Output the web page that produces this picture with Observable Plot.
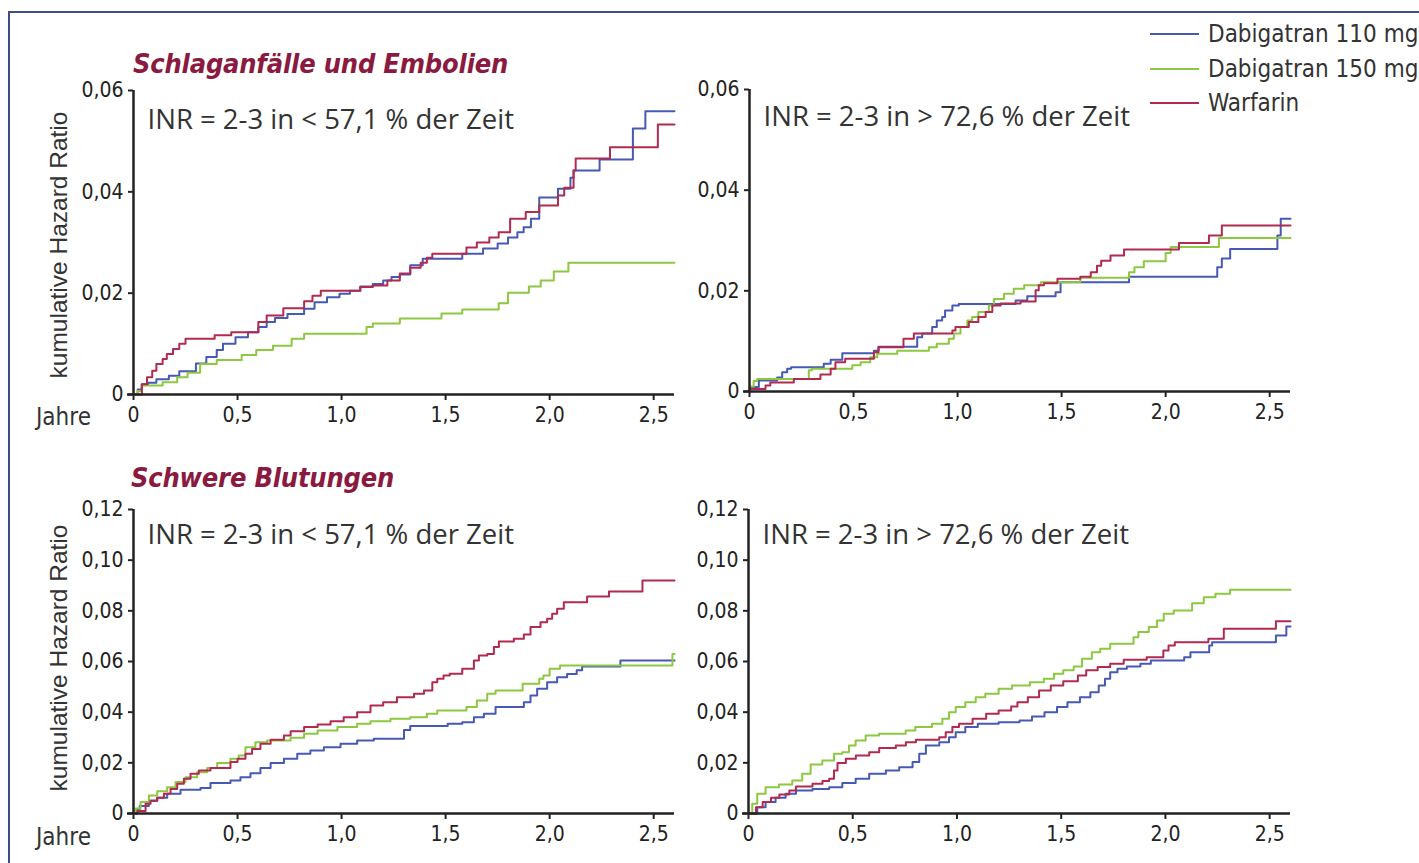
<!DOCTYPE html>
<html><head><meta charset="utf-8">
<script src="https://cdn.jsdelivr.net/npm/d3@7"></script>
<script src="https://cdn.jsdelivr.net/npm/@observablehq/plot@0.6"></script>
<style>
  html,body{margin:0;padding:0;background:#fff;}
  body{width:1419px;height:863px;position:relative;overflow:hidden;}
  .frame{position:absolute;left:8px;top:11px;width:1500px;height:1000px;border-top:2.5px solid #3d4b8a;border-left:2.5px solid #3d4b8a;}
  .panel{position:absolute;}
  .title{position:absolute;color:#8a1a40;font-weight:bold;font-style:italic;font-size:27px;line-height:1;font-family:"Liberation Sans Narrow","DejaVu Sans Condensed","Roboto",sans-serif;white-space:nowrap;z-index:3;letter-spacing:-0.2px;}
  .ylab{position:absolute;font-family:"Liberation Sans","Arial",sans-serif;font-size:24.5px;color:#333;white-space:nowrap;transform:translate(-50%,-50%) rotate(-90deg);line-height:1;z-index:3;}
  .jahre{position:absolute;font-family:"Liberation Sans Narrow","DejaVu Sans Condensed","Roboto",sans-serif;font-size:24px;color:#333;line-height:1;z-index:3;}
  .legend{position:absolute;left:1150px;top:17px;font-family:"Liberation Sans Narrow","DejaVu Sans Condensed","Roboto",sans-serif;font-size:24px;color:#333;z-index:3;}
  .legend .row{display:flex;align-items:center;height:34.5px;white-space:nowrap;}
  .legend .sw{display:inline-block;width:49px;height:0;border-top:2.5px solid;margin-right:9px;}
</style>
</head><body>
<div class="frame"></div>
<div id="p1" class="panel" style="left:0;top:60px"></div>
<div id="p2" class="panel" style="left:700px;top:60px"></div>
<div id="p3" class="panel" style="left:0;top:470px"></div>
<div id="p4" class="panel" style="left:700px;top:470px"></div>
<div class="title" style="left:133px;top:50px">Schlaganfälle und Embolien</div>
<div class="title" style="left:131px;top:464px">Schwere Blutungen</div>
<div class="ylab" style="left:59px;top:245px">kumulative Hazard Ratio</div>
<div class="ylab" style="left:59px;top:658px">kumulative Hazard Ratio</div>
<div class="jahre" style="left:36px;top:405px">Jahre</div>
<div class="jahre" style="left:36px;top:825px">Jahre</div>
<div class="legend" id="legend"></div>
<script>
// ---- series names, colours, ticks ----
const seriesNames = ["Dabigatran 110 mg", "Dabigatran 150 mg", "Warfarin"];
const seriesColors = ["#4659b4", "#8cc840", "#b12a50"];
const xTicks = [0, 0.5, 1.0, 1.5, 2.0, 2.5];
const yTicksStroke = [0, 0.02, 0.04, 0.06];
const yTicksBleed = [0, 0.02, 0.04, 0.06, 0.08, 0.10, 0.12];
const panelNotes = ["INR = 2-3 in < 57,1 % der Zeit", "INR = 2-3 in > 72,6 % der Zeit"];
const chartTitles = ["Schlaganfälle und Embolien", "Schwere Blutungen"];

// ---- Schlaganfälle und Embolien, INR 2-3 in < 57,1 % der Zeit : [Jahre, kumulative HR] ----
const stroke_low_d110 = [[0,0],[0.02,0.001],[0.04,0.002],[0.07,0.0023],[0.11,0.003],[0.17,0.0037],[0.22,0.0046],[0.3,0.0061],[0.35,0.0074],[0.4,0.0088],[0.43,0.01],[0.49,0.0113],[0.55,0.0123],[0.6,0.0133],[0.64,0.0143],[0.68,0.0151],[0.74,0.0159],[0.82,0.0169],[0.87,0.0182],[0.93,0.0192],[0.99,0.0199],[1.04,0.0205],[1.09,0.0213],[1.15,0.0218],[1.2,0.0225],[1.24,0.0232],[1.28,0.0237],[1.33,0.0255],[1.39,0.0268],[1.58,0.0278],[1.68,0.0288],[1.75,0.0298],[1.8,0.031],[1.845,0.032],[1.875,0.033],[1.91,0.0347],[1.95,0.0389],[2.04,0.0406],[2.1,0.0428],[2.115,0.0442],[2.24,0.0464],[2.4,0.0525],[2.46,0.0559],[2.6,0.0559]];
const stroke_low_d150 = [[0,0],[0.02,0.0007],[0.04,0.0018],[0.14,0.0024],[0.21,0.0034],[0.26,0.0043],[0.32,0.006],[0.4,0.0068],[0.52,0.0078],[0.59,0.0088],[0.67,0.0096],[0.76,0.011],[0.82,0.012],[1.12,0.0133],[1.15,0.014],[1.28,0.015],[1.48,0.016],[1.58,0.0168],[1.755,0.018],[1.8,0.0201],[1.9,0.0213],[1.957,0.0225],[2.02,0.0243],[2.09,0.026],[2.6,0.026]];
const stroke_low_warf = [[0,0],[0.04,0.002],[0.065,0.0034],[0.09,0.0047],[0.11,0.006],[0.14,0.007],[0.16,0.008],[0.19,0.009],[0.22,0.01],[0.25,0.011],[0.39,0.0117],[0.47,0.0123],[0.6,0.0143],[0.64,0.0156],[0.72,0.017],[0.82,0.0184],[0.86,0.0195],[0.9,0.0205],[1.09,0.0212],[1.15,0.0215],[1.22,0.0225],[1.28,0.0239],[1.33,0.025],[1.38,0.026],[1.41,0.027],[1.436,0.0278],[1.6,0.029],[1.65,0.03],[1.71,0.031],[1.755,0.032],[1.81,0.0347],[1.885,0.036],[1.95,0.0373],[2.04,0.0393],[2.07,0.0408],[2.115,0.0442],[2.125,0.0466],[2.29,0.0488],[2.52,0.0533],[2.6,0.0533]];

// ---- Schlaganfälle und Embolien, INR 2-3 in > 72,6 % der Zeit ----
const stroke_high_d110 = [[0,0.0009],[0.045,0.0022],[0.133,0.0028],[0.157,0.0038],[0.181,0.0045],[0.2,0.0048],[0.357,0.0055],[0.39,0.0063],[0.446,0.0076],[0.598,0.0081],[0.62,0.0089],[0.806,0.0108],[0.83,0.0115],[0.878,0.0128],[0.9,0.0141],[0.926,0.0148],[0.94,0.0161],[0.975,0.0171],[1.006,0.0174],[1.279,0.0181],[1.335,0.0189],[1.471,0.0197],[1.495,0.0217],[1.824,0.0228],[2.248,0.0247],[2.27,0.0264],[2.31,0.0283],[2.537,0.031],[2.553,0.0343],[2.6,0.0343]];
const stroke_high_d150 = [[0,0.001],[0.02,0.0021],[0.037,0.0025],[0.285,0.0042],[0.3,0.0045],[0.494,0.0052],[0.534,0.0058],[0.58,0.0068],[0.614,0.0075],[0.71,0.0081],[0.862,0.0088],[0.9,0.0095],[0.958,0.0105],[0.982,0.0115],[1.014,0.0128],[1.047,0.0141],[1.07,0.0148],[1.1,0.0158],[1.15,0.0171],[1.175,0.0184],[1.223,0.0194],[1.27,0.0204],[1.32,0.0211],[1.4,0.0217],[1.59,0.0226],[1.824,0.0237],[1.85,0.0247],[1.895,0.0259],[2.0,0.0275],[2.024,0.0287],[2.256,0.0305],[2.6,0.0305]];
const stroke_high_warf = [[0,0.0005],[0.077,0.0012],[0.1,0.0018],[0.213,0.0025],[0.341,0.0034],[0.39,0.0045],[0.413,0.0058],[0.46,0.0065],[0.598,0.0078],[0.62,0.0088],[0.74,0.0105],[0.79,0.0115],[0.975,0.0121],[0.99,0.0128],[1.054,0.0138],[1.1,0.0148],[1.135,0.0158],[1.167,0.0171],[1.207,0.0175],[1.303,0.0179],[1.375,0.0201],[1.39,0.0211],[1.415,0.0215],[1.48,0.0224],[1.59,0.0228],[1.64,0.0237],[1.67,0.025],[1.69,0.026],[1.735,0.027],[1.8,0.0282],[2.064,0.0295],[2.208,0.031],[2.27,0.033],[2.6,0.033]];

// ---- Schwere Blutungen, INR 2-3 in < 57,1 % der Zeit ----
const bleed_low_d110 = [[0,0],[0.015,0.0015],[0.03,0.003],[0.074,0.0049],[0.114,0.0062],[0.162,0.0078],[0.226,0.0094],[0.322,0.0101],[0.37,0.012],[0.466,0.013],[0.514,0.0143],[0.562,0.0159],[0.61,0.018],[0.659,0.0199],[0.723,0.0216],[0.787,0.0236],[0.85,0.0249],[0.915,0.0262],[0.995,0.0275],[1.075,0.0288],[1.155,0.0295],[1.3,0.033],[1.33,0.0345],[1.51,0.0354],[1.58,0.036],[1.636,0.038],[1.684,0.0394],[1.74,0.042],[1.876,0.0439],[1.908,0.0466],[1.94,0.0492],[1.988,0.0518],[2.036,0.0538],[2.084,0.0551],[2.13,0.0565],[2.156,0.058],[2.34,0.0604],[2.6,0.0604]];
const bleed_low_d150 = [[0,0],[0.01,0.002],[0.034,0.0045],[0.074,0.0071],[0.114,0.0088],[0.162,0.0104],[0.202,0.0124],[0.25,0.0143],[0.306,0.0163],[0.354,0.018],[0.402,0.0199],[0.466,0.0216],[0.506,0.0229],[0.538,0.0262],[0.586,0.0281],[0.642,0.0288],[0.755,0.0299],[0.82,0.0315],[0.885,0.0328],[0.98,0.0341],[1.075,0.0354],[1.139,0.0364],[1.235,0.0374],[1.33,0.038],[1.41,0.0394],[1.46,0.0407],[1.6,0.042],[1.65,0.0446],[1.7,0.0473],[1.74,0.0486],[1.87,0.0512],[1.95,0.0532],[1.97,0.0545],[2.0,0.0571],[2.05,0.0584],[2.59,0.063],[2.6,0.063]];
const bleed_low_warf = [[0,0],[0.02,0.001],[0.058,0.0038],[0.082,0.0051],[0.114,0.0062],[0.146,0.0078],[0.178,0.0097],[0.21,0.0117],[0.242,0.0137],[0.274,0.0157],[0.314,0.017],[0.37,0.018],[0.466,0.0203],[0.5,0.0216],[0.538,0.0236],[0.57,0.0255],[0.61,0.0275],[0.659,0.0291],[0.723,0.0308],[0.755,0.0325],[0.82,0.0341],[0.885,0.0351],[0.947,0.0364],[1.01,0.038],[1.075,0.04],[1.139,0.0426],[1.2,0.0439],[1.266,0.0459],[1.348,0.0473],[1.396,0.0486],[1.436,0.0518],[1.46,0.0532],[1.49,0.0545],[1.52,0.0552],[1.58,0.0571],[1.636,0.0604],[1.66,0.0624],[1.7,0.063],[1.732,0.0657],[1.756,0.0679],[1.828,0.069],[1.876,0.0707],[1.908,0.0736],[1.956,0.0755],[1.988,0.0769],[2.012,0.0788],[2.036,0.0808],[2.068,0.0834],[2.18,0.0857],[2.285,0.0876],[2.446,0.092],[2.6,0.092]];

// ---- Schwere Blutungen, INR 2-3 in > 72,6 % der Zeit ----
const bleed_high_d110 = [[0,0],[0.042,0.0025],[0.082,0.0045],[0.13,0.0062],[0.178,0.0078],[0.228,0.0091],[0.307,0.0097],[0.387,0.0104],[0.45,0.012],[0.514,0.0137],[0.579,0.0157],[0.659,0.017],[0.723,0.0183],[0.787,0.0203],[0.819,0.0236],[0.851,0.0268],[0.915,0.0281],[0.962,0.0301],[0.994,0.0321],[1.04,0.0341],[1.1,0.0354],[1.2,0.036],[1.3,0.0367],[1.36,0.0383],[1.42,0.04],[1.48,0.042],[1.53,0.0439],[1.59,0.0459],[1.64,0.0479],[1.68,0.0505],[1.71,0.0532],[1.735,0.0558],[1.77,0.0571],[1.815,0.058],[1.88,0.0591],[1.93,0.0604],[2.09,0.0617],[2.12,0.0637],[2.21,0.0663],[2.224,0.0676],[2.53,0.0703],[2.58,0.0738],[2.6,0.0738]];
const bleed_high_d150 = [[0,0],[0.018,0.0038],[0.042,0.0078],[0.082,0.0104],[0.146,0.0114],[0.21,0.013],[0.258,0.0157],[0.298,0.0193],[0.354,0.0209],[0.41,0.0236],[0.45,0.0242],[0.482,0.0268],[0.514,0.0288],[0.562,0.0308],[0.626,0.0315],[0.754,0.0328],[0.8,0.0341],[0.88,0.0354],[0.93,0.0374],[0.962,0.04],[0.994,0.042],[1.04,0.0439],[1.09,0.0459],[1.136,0.0473],[1.2,0.0492],[1.264,0.0505],[1.35,0.0518],[1.417,0.0532],[1.465,0.0552],[1.51,0.0565],[1.56,0.058],[1.6,0.0611],[1.647,0.0637],[1.687,0.065],[1.735,0.067],[1.847,0.0696],[1.87,0.0716],[1.92,0.0736],[1.96,0.0762],[1.992,0.0788],[2.04,0.0801],[2.128,0.083],[2.184,0.0854],[2.24,0.0867],[2.31,0.0883],[2.6,0.0883]];
const bleed_high_warf = [[0,0],[0.036,0.0025],[0.068,0.0045],[0.108,0.0062],[0.148,0.0075],[0.196,0.0091],[0.228,0.0107],[0.307,0.0117],[0.355,0.0128],[0.387,0.0137],[0.41,0.017],[0.427,0.0199],[0.467,0.0216],[0.515,0.0229],[0.579,0.0242],[0.627,0.0259],[0.707,0.0268],[0.755,0.0281],[0.803,0.0291],[0.915,0.0301],[0.946,0.0321],[0.978,0.0341],[1.01,0.0354],[1.075,0.0374],[1.14,0.0394],[1.2,0.0407],[1.26,0.0422],[1.29,0.0439],[1.34,0.0459],[1.394,0.0486],[1.45,0.0505],[1.51,0.0522],[1.58,0.0545],[1.62,0.0565],[1.675,0.0578],[1.735,0.0591],[1.8,0.0607],[1.91,0.0617],[1.99,0.0643],[2.015,0.0663],[2.045,0.0676],[2.206,0.069],[2.28,0.0729],[2.53,0.0759],[2.6,0.0759]];

// ---- rendering ----
const tickFont = '"Liberation Sans Narrow","DejaVu Sans Condensed","Roboto",sans-serif';
const noteFont = '"Open Sans","Liberation Sans",sans-serif';
const fmtX = d => d === 0 ? "0" : d.toFixed(1).replace(".", ",");
const fmtY = d => d === 0 ? "0" : d.toFixed(2).replace(".", ",");

function panel(el, cfg) {
  const data = cfg.series.flatMap((pts, i) => pts.map(([t, v]) => ({name: seriesNames[i], t, v})));
  const chart = Plot.plot({
    width: cfg.width, height: cfg.height,
    marginLeft: cfg.ml, marginRight: cfg.mr, marginTop: cfg.mt, marginBottom: cfg.mb,
    style: {background: "transparent", fontFamily: tickFont, color: "#222", overflow: "visible"},
    x: {domain: [0, 2.6]},
    y: {domain: [0, cfg.yMax]},
    color: {domain: seriesNames, range: seriesColors},
    marks: [
      Plot.axisX({ticks: xTicks, tickFormat: fmtX, tickSize: 6, tickPadding: 7, fontSize: 21, strokeWidth: 2, label: null}),
      Plot.axisY({ticks: cfg.yTicks, tickFormat: fmtY, tickSize: 5, tickPadding: 5, fontSize: 21, strokeWidth: 2, label: null}),
      Plot.line(data, {x: "t", y: "v", z: "name", stroke: "name", curve: "step-after", strokeWidth: 2}),
      Plot.ruleY([0], {stroke: "#222", strokeWidth: 2.5, insetLeft: -6}),
      Plot.ruleX([0], {stroke: "#222", strokeWidth: 2.5}),
      Plot.text([cfg.note], {text: d => d, frameAnchor: "top-left", dx: 14, dy: cfg.noteDy, textAnchor: "start", lineAnchor: "middle", fontSize: 27.5, fill: "#333", fontFamily: noteFont})
    ]
  });
  document.getElementById(el).appendChild(chart);
}

panel("p1", {series: [stroke_low_d110, stroke_low_d150, stroke_low_warf], yMax: 0.06, yTicks: yTicksStroke,
  width: 700, height: 374, ml: 133, mr: 26, mt: 30, mb: 40, note: panelNotes[0], noteDy: 30});
panel("p2", {series: [stroke_high_d110, stroke_high_d150, stroke_high_warf], yMax: 0.06, yTicks: yTicksStroke,
  width: 719, height: 371, ml: 49, mr: 129, mt: 29, mb: 40, note: panelNotes[1], noteDy: 28});
panel("p3", {series: [bleed_low_d110, bleed_low_d150, bleed_low_warf], yMax: 0.12, yTicks: yTicksBleed,
  width: 700, height: 383, ml: 133, mr: 26, mt: 39, mb: 40, note: panelNotes[0], noteDy: 26});
panel("p4", {series: [bleed_high_d110, bleed_high_d150, bleed_high_warf], yMax: 0.12, yTicks: yTicksBleed,
  width: 719, height: 383, ml: 48, mr: 129, mt: 39, mb: 40, note: panelNotes[1], noteDy: 26});

// legend
const lg = document.getElementById("legend");
seriesNames.forEach((n, i) => {
  const row = document.createElement("div");
  row.className = "row";
  const sw = document.createElement("span");
  sw.className = "sw";
  sw.style.borderTopColor = seriesColors[i];
  const tx = document.createElement("span");
  tx.textContent = n;
  row.appendChild(sw); row.appendChild(tx);
  lg.appendChild(row);
});
</script>
</body></html>
